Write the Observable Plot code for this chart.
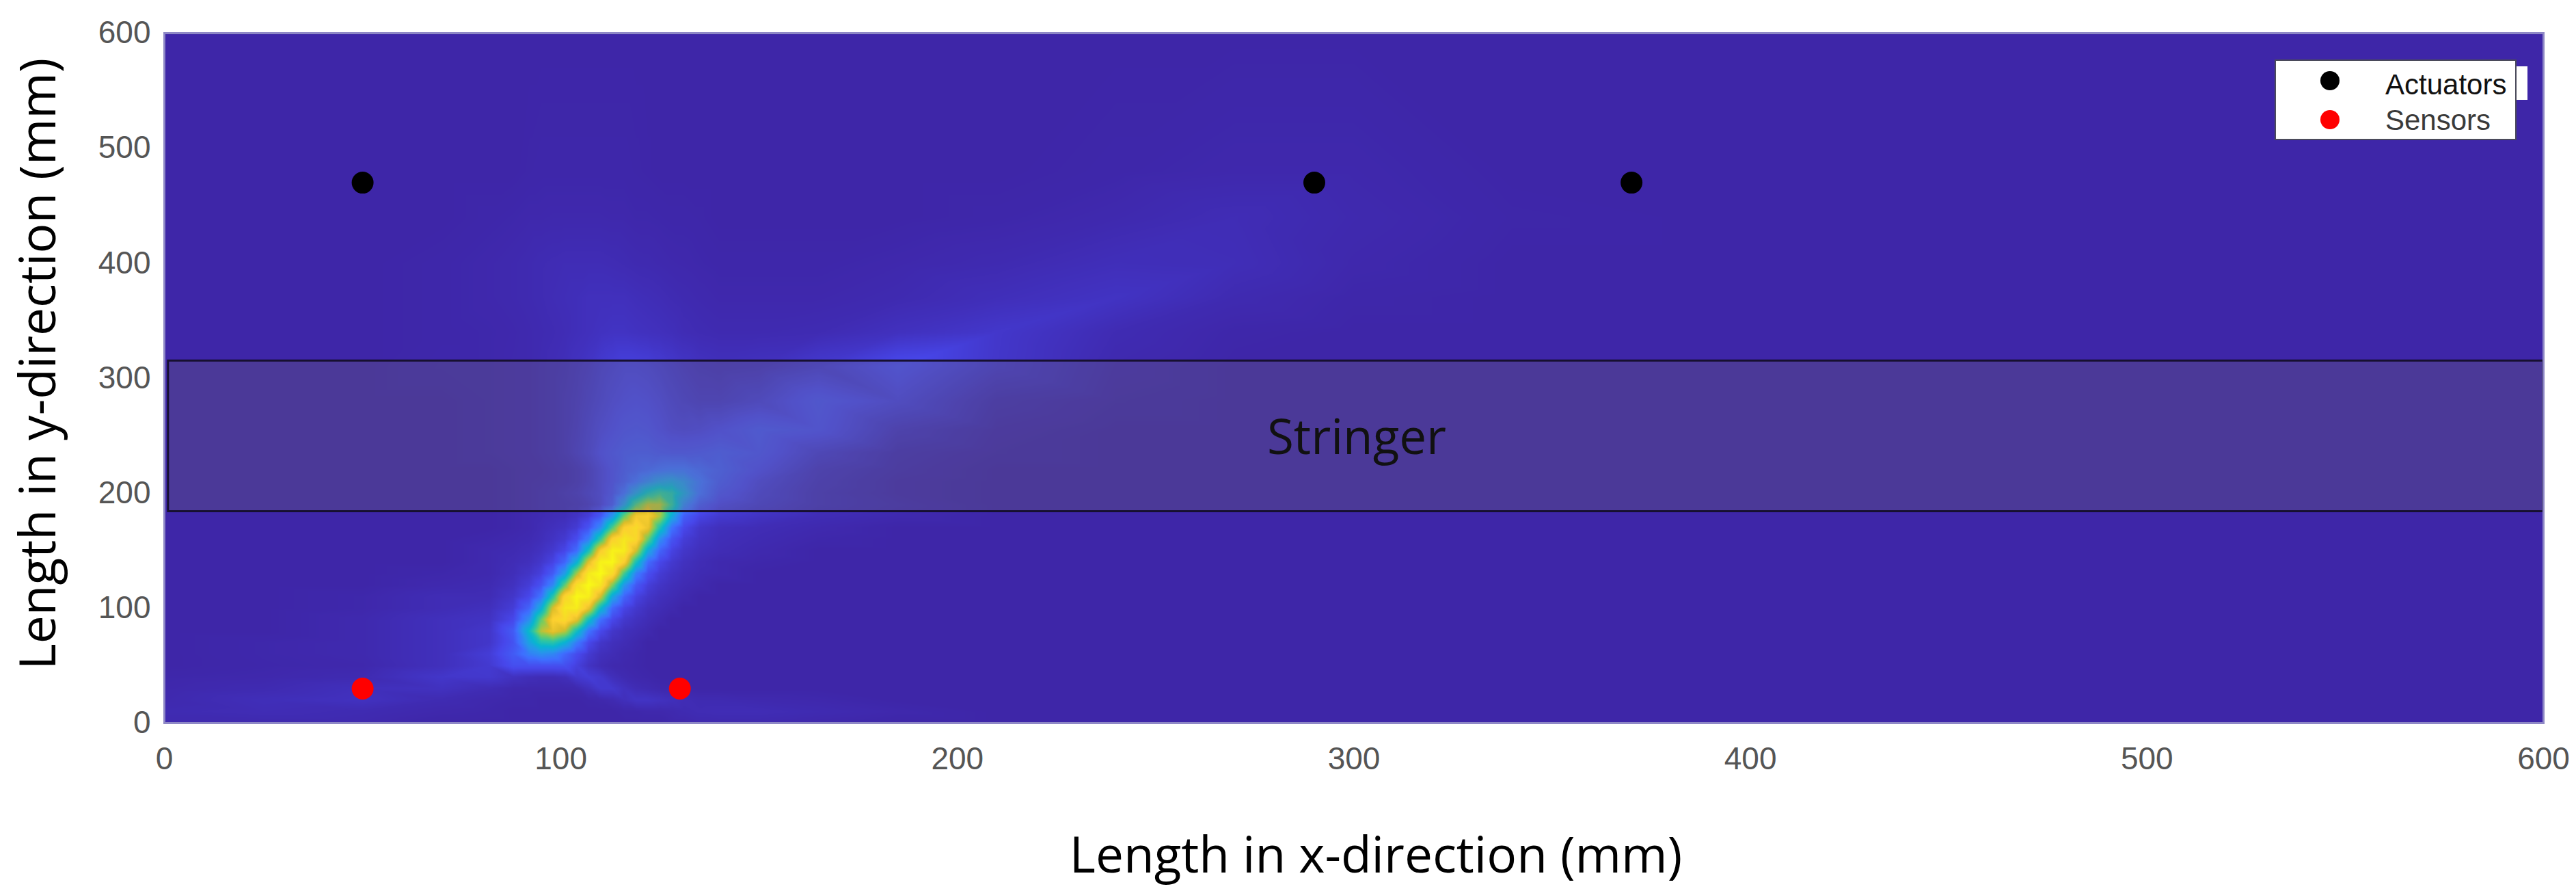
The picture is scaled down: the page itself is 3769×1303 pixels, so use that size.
<!DOCTYPE html>
<html><head><meta charset="utf-8">
<script src="https://cdn.jsdelivr.net/npm/d3@7"></script>
<script src="https://cdn.jsdelivr.net/npm/@observablehq/plot@0.6"></script>
<style>
html,body{margin:0;padding:0;background:#fff;}
#wrap{position:relative;width:3769px;height:1303px;overflow:hidden;background:#fff;}
</style></head><body>
<div id="wrap"></div>
<script>
// ---- Data ----
// Sample grid of the damage-index field (x in mm, y in mm)
const gridX = [0, 25, 50, 70, 82, 88, 92, 95, 98, 101, 104, 107, 110, 113, 116, 119, 122, 125, 128, 131, 135, 140, 150, 165, 185, 210, 240, 270, 300, 340, 400, 600];
const gridY = [0, 10, 20, 30, 40, 50, 60, 70, 80, 90, 100, 110, 120, 130, 140, 150, 160, 170, 180, 190, 200, 210, 220, 235, 255, 280, 310, 340, 370, 400, 440, 480, 600];
// intensity[row for gridY][column for gridX], 0 = background, 1 = peak
const intensity = [
 [.01,.01,.01,0,0,0,0,0,0,0,0,0,0,0,0,0,0,0,.005,.005,.01,.01,.01,.005,0,0,0,0,0,0,0,0],
 [.015,.02,.015,.007,.004,0,0,0,0,0,0,0,0,0,.004,.004,.007,.007,.01,.014,.018,.02,.02,.014,.007,0,0,0,0,0,0,0],
 [.01,.025,.035,.015,.007,.004,.004,0,0,0,0,.004,.007,.014,.028,.042,.042,.035,.028,.02,.014,.014,.01,.007,0,0,0,0,0,0,0,0],
 [.007,.014,.03,.035,.018,.008,.007,.007,.007,.007,.01,.03,.056,.056,.035,.02,.014,.008,.007,.004,0,0,0,0,0,0,0,0,0,0,0,0],
 [.004,.007,.014,.05,.056,.035,.025,.02,.02,.028,.056,.07,.056,.028,.014,.007,.004,0,0,0,0,0,0,0,0,0,0,0,0,0,0,0],
 [0,.004,.007,.03,.06,.12,.12,.12,.12,.12,.08,.04,.02,.01,.007,.004,0,0,0,0,0,0,0,0,0,0,0,0,0,0,0,0],
 [0,.005,.01,.03,.07,.15,.24,.28,.26,.18,.11,.06,.03,.02,.01,.005,0,0,0,0,0,0,0,0,0,0,0,0,0,0,0,0],
 [0,.005,.01,.03,.05,.13,.34,.46,.48,.39,.23,.10,.05,.03,.02,.01,0,0,0,0,0,0,0,0,0,0,0,0,0,0,0,0],
 [0,0,.01,.03,.05,.15,.42,.66,.74,.67,.44,.21,.10,.05,.03,.02,.01,0,0,0,0,0,0,0,0,0,0,0,0,0,0,0],
 [0,0,.01,.03,.04,.10,.28,.56,.81,.86,.73,.44,.20,.10,.055,.035,.02,.01,0,0,0,0,0,0,0,0,0,0,0,0,0,0],
 [0,0,.005,.02,.03,.07,.17,.37,.70,.92,.94,.74,.42,.18,.09,.055,.03,.02,.01,0,0,0,0,0,0,0,0,0,0,0,0,0],
 [0,0,.005,.02,.02,.05,.10,.21,.48,.83,.99,.95,.69,.35,.17,.085,.05,.03,.02,.01,0,0,0,0,0,0,0,0,0,0,0,0],
 [0,0,0,.01,.015,.035,.07,.125,.26,.56,.88,1,.91,.60,.30,.14,.073,.045,.028,.018,.01,0,0,0,0,0,0,0,0,0,0,0],
 [0,0,0,.005,.01,.025,.047,.078,.15,.32,.64,.93,1,.86,.52,.24,.115,.065,.04,.025,.015,.01,0,0,0,0,0,0,0,0,0,0],
 [0,0,0,0,.01,.02,.03,.052,.088,.175,.38,.72,.965,.985,.80,.45,.19,.097,.058,.035,.02,.01,.005,0,0,0,0,0,0,0,0,0],
 [0,0,0,0,.01,.015,.022,.036,.058,.095,.19,.45,.79,.96,.94,.69,.36,.17,.085,.05,.03,.02,.01,0,0,0,0,0,0,0,0,0],
 [0,0,0,0,.005,.01,.015,.025,.04,.06,.11,.24,.50,.81,.92,.85,.57,.28,.13,.07,.04,.025,.015,.005,0,0,0,0,0,0,0,0],
 [0,0,0,0,0,.005,.01,.02,.03,.04,.065,.13,.27,.54,.80,.86,.75,.46,.21,.10,.05,.03,.02,.01,0,0,0,0,0,0,0,0],
 [0,0,0,0,0,.005,.01,.015,.02,.025,.04,.07,.14,.30,.57,.77,.79,.65,.37,.16,.09,.06,.04,.02,.01,0,0,0,0,0,0,0],
 [0,0,0,0,0,.005,.01,.015,.02,.025,.03,.045,.075,.14,.31,.54,.67,.66,.49,.26,.14,.09,.06,.03,.015,0,0,0,0,0,0,0],
 [0,0,0,0,0,.005,.01,.015,.02,.03,.04,.06,.08,.12,.20,.32,.44,.50,.46,.34,.20,.12,.07,.03,.01,0,0,0,0,0,0,0],
 [0,0,0,0,0,.005,.01,.012,.015,.02,.03,.05,.08,.11,.15,.20,.26,.31,.33,.29,.21,.14,.08,.035,.01,0,0,0,0,0,0,0],
 [0,0,0,0,0,.005,.008,.01,.015,.02,.03,.05,.08,.11,.14,.16,.18,.20,.21,.21,.18,.15,.10,.04,.015,0,0,0,0,0,0,0],
 [0,0,0,0,.005,.008,.01,.015,.02,.03,.05,.07,.10,.12,.135,.14,.14,.13,.125,.125,.13,.14,.12,.06,.02,.005,0,0,0,0,0,0],
 [0,0,0,0,.005,.008,.01,.015,.02,.03,.045,.065,.085,.10,.115,.12,.115,.10,.085,.08,.085,.10,.13,.11,.04,.01,0,0,0,0,0,0],
 [0,0,0,0,.005,.008,.01,.015,.02,.03,.04,.055,.07,.085,.095,.10,.095,.085,.07,.06,.05,.05,.07,.12,.08,.02,.005,0,0,0,0,0],
 [0,0,0,.005,.005,.008,.01,.015,.02,.025,.035,.045,.06,.07,.08,.08,.075,.065,.055,.045,.035,.03,.035,.06,.11,.05,.01,0,0,0,0,0],
 [0,0,0,.003,.005,.007,.01,.013,.016,.02,.026,.03,.036,.04,.04,.036,.033,.03,.026,.02,.016,.013,.013,.016,.033,.052,.016,.003,0,0,0,0],
 [0,0,0,.003,.007,.01,.013,.016,.02,.023,.026,.03,.03,.03,.03,.026,.023,.02,.016,.013,.01,.007,.007,.007,.013,.026,.04,.013,.003,0,0,0],
 [0,0,0,.003,.007,.01,.013,.016,.018,.02,.02,.02,.02,.018,.016,.013,.012,.01,.008,.007,.005,.003,.003,.003,.007,.013,.026,.023,.007,0,0,0],
 [0,0,0,0,.003,.005,.007,.007,.008,.008,.008,.008,.008,.007,.007,.005,.005,.004,.003,.003,.002,0,0,0,0,.003,.01,.02,.01,.002,0,0],
 [0,0,0,0,0,0,.002,.003,.003,.003,.003,.003,.003,.003,.003,.002,.001,0,0,0,0,0,0,0,0,0,.003,.007,.007,0,0,0],
 [0,0,0,0,0,0,0,0,0,0,0,0,0,0,0,0,0,0,0,0,0,0,0,0,0,0,0,0,0,0,0,0]
];

const actuatorX = [50, 290, 370];
const actuatorY = [470, 470, 470];
const sensorX = [50, 130];
const sensorY = [30, 30];

const stringerX = [1, 600];
const stringerY = [184, 315];
const stringerLabel = "Stringer";

const xTicks = [0, 100, 200, 300, 400, 500, 600];
const yTicks = [0, 100, 200, 300, 400, 500, 600];
const xTitle = "Length in x-direction (mm)";
const yTitle = "Length in y-direction (mm)";

const seriesNames = ["Actuators", "Sensors"];
const seriesColors = ["#000000", "#ff0000"];

// parula colormap stops
const parulaStops = [0, .1, .2, .3, .4, .5, .6, .7, .8, .9, 1];
const parulaColors = ["#3e26a8", "#4747eb", "#3e6fff", "#2796eb", "#08b5d0", "#31c69f", "#80cc59", "#dcbd29", "#fccf30", "#f5e322", "#f9fb14"];

// ---- Build tables ----
const field = [];
gridY.forEach((y, i) => gridX.forEach((x, j) => field.push({x, y, v: intensity[i][j]})));
const actuators = actuatorX.map((x, i) => ({x, y: actuatorY[i]}));
const sensors = sensorX.map((x, i) => ({x, y: sensorY[i]}));
const stringer = [{x1: stringerX[0], x2: stringerX[1], y1: stringerY[0], y2: stringerY[1],
  cx: (xTicks[0] + xTicks[xTicks.length - 1]) / 2, cy: (stringerY[0] + stringerY[1]) / 2, label: stringerLabel}];

const titleFont = "'Open Sans', 'Noto Sans', sans-serif";

const chart = Plot.plot({
  width: 3769, height: 1303,
  marginLeft: 240, marginRight: 48, marginTop: 48, marginBottom: 246,
  style: {background: "transparent", fontFamily: "'Liberation Sans', Arial, sans-serif", overflow: "visible"},
  x: {domain: [0, 600]},
  y: {domain: [0, 600]},
  color: {type: "linear", domain: parulaStops, range: parulaColors, clamp: true},
  marks: [
    Plot.raster(field, {x: "x", y: "y", fill: "v", interpolate: "barycentric", x1: 0, x2: 600, y1: 0, y2: 600}),
    Plot.rect(stringer, {x1: "x1", x2: "x2", y1: "y1", y2: "y2", fill: "#6f6f6f", fillOpacity: 0.27, stroke: "#171030", strokeWidth: 3}),
    Plot.text(stringer, {x: "cx", y: "cy", text: "label", fontSize: 71, fontFamily: titleFont, fill: "#111", lineAnchor: "middle", dx: 4, dy: 3}),
    Plot.dot(actuators, {x: "x", y: "y", r: 16, fill: seriesColors[0]}),
    Plot.dot(sensors, {x: "x", y: "y", r: 16, fill: seriesColors[1]}),
    Plot.frame({stroke: "#8e88c6", strokeWidth: 3}),
    Plot.axisX({ticks: xTicks, tickSize: 0, tickPadding: 35, fontSize: 46, label: null, fill: "#555"}),
    Plot.axisY({ticks: yTicks, tickSize: 0, tickPadding: 20, fontSize: 46, label: null, fill: "#555"}),
    Plot.text([xTitle], {text: d => d, frameAnchor: "bottom", textAnchor: "middle", dx: 32, dy: 218, lineAnchor: "bottom", fontSize: 73, fontFamily: titleFont, fill: "#000"}),
    Plot.text([yTitle], {text: d => d, frameAnchor: "left", textAnchor: "middle", rotate: -90, dx: -160, dy: -21, lineAnchor: "bottom", fontSize: 73, fontFamily: titleFont, fill: "#000"})
  ]
});

const wrap = document.getElementById("wrap");
wrap.appendChild(chart);

// ---- Legend (inside the plot's top-right corner) ----
const lg = d3.create("svg")
  .attr("width", 372).attr("height", 120)
  .style("position", "absolute").style("left", "3328px").style("top", "87px").style("overflow", "visible");
lg.append("rect").attr("x", 352).attr("y", 10).attr("width", 18).attr("height", 49).attr("fill", "#fff");
lg.append("rect").attr("x", 1).attr("y", 1).attr("width", 352).attr("height", 116)
  .attr("fill", "#fff").attr("stroke", "#4a4a5a").attr("stroke-width", 2);
const legendDotY = [31, 88];
const legendTextY = [51, 103];
const legendTextColor = ["#111", "#3a3a3a"];
seriesNames.forEach((name, i) => {
  lg.append("circle").attr("cx", 81).attr("cy", legendDotY[i]).attr("r", 14).attr("fill", seriesColors[i]);
  lg.append("text").attr("x", 162).attr("y", legendTextY[i]).attr("font-family", "'Liberation Sans', Arial, sans-serif")
    .attr("font-size", 42).attr("fill", legendTextColor[i]).text(name);
});
wrap.appendChild(lg.node());
</script>
</body></html>
